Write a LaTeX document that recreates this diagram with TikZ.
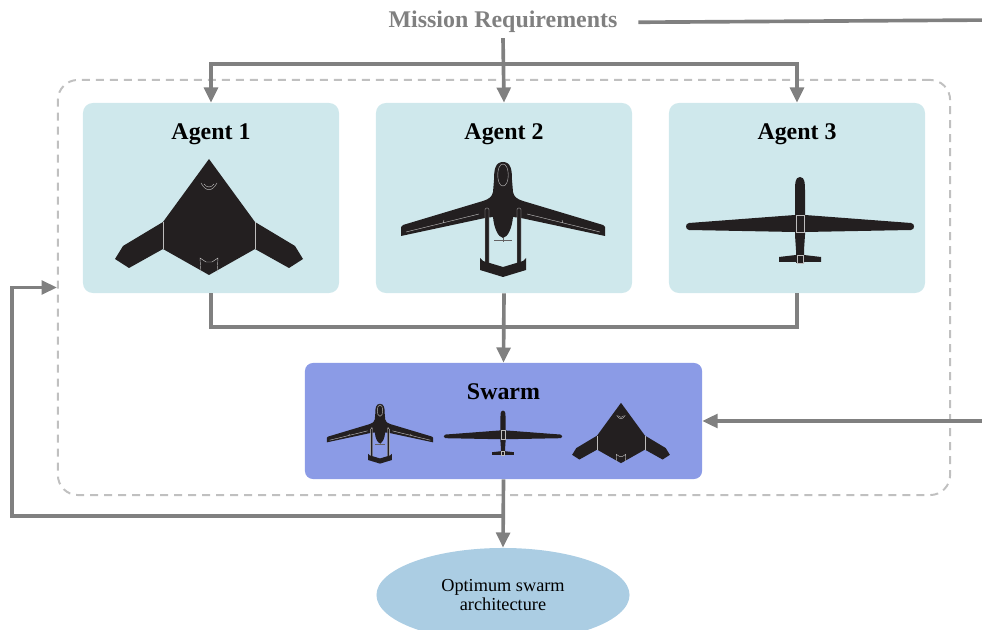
\documentclass[tikz,border=0pt]{standalone}
\usepackage{fontspec}
\setmainfont{Liberation Serif}
\usepackage{tikz}
\usetikzlibrary{arrows.meta,positioning,shapes.geometric}
\usepackage{xcolor}
\definecolor{agentfill}{RGB}{207,232,236}
\definecolor{swarmfill}{RGB}{139,155,230}
\definecolor{resultfill}{RGB}{171,205,227}
\definecolor{linegrey}{RGB}{128,128,128}
\definecolor{framegrey}{RGB}{192,192,192}
\definecolor{hullblack}{RGB}{35,31,32}

% aircraft silhouettes, drawn in pixel-sized units around their centre
\tikzset{
  hull/.style={fill=hullblack},
  seam/.style={draw=white!70!hullblack, line width=0.3pt},
  flywing/.pic={
    \fill[hull] (0,-58) -- (46,5) -- (86,29) -- (94,42) -- (80,51) -- (46,32)
      -- (0,58) -- (-46,32) -- (-80,51) -- (-94,42) -- (-86,29) -- (-46,5) -- cycle;
    \draw[seam] (-46,5) -- (-46,32) (46,5) -- (46,32);
    \draw[seam] (-8,56) -- (-9,41) -- (-3,45) -- (3,45) -- (9,41) -- (8,56);
    \draw[seam] (-8,-34) .. controls (-3,-25) and (3,-25) .. (8,-34);
    \draw[seam] (-5,-33) .. controls (-2,-29) and (2,-29) .. (5,-33);
  },
  twinboom/.pic={
    \fill[hull] (0,-58) .. controls (8,-58) and (9,-50) .. (9,-40) -- (10,-28)
      .. controls (11,-23) and (14,-21) .. (20,-19) -- (100,5) -- (102,7) -- (102,16)
      -- (18,-2) -- (10,-3) .. controls (9,8) and (5,17) .. (0,18)
      .. controls (-5,17) and (-9,8) .. (-10,-3) -- (-18,-2) -- (-102,16)
      -- (-102,7) -- (-100,5) -- (-20,-19) .. controls (-14,-21) and (-11,-23) .. (-10,-28)
      -- (-9,-40) .. controls (-9,-50) and (-8,-58) .. (0,-58) -- cycle;
    \draw[seam] (0,-56) .. controls (7,-56) and (7,-34) .. (0,-34)
      .. controls (-7,-34) and (-7,-56) .. (0,-56);
    \draw[seam] (-97,12) -- (-24,-6) (-60,3) -- (-59,0)
      (97,12) -- (24,-6) (60,3) -- (59,0);
    \filldraw[hull, seam, rounded corners=1pt]
      (-18,-12) rectangle (-14,46) (14,-12) rectangle (18,46);
    \fill[hull] (-23,38) -- (-20,41) -- (0,47) -- (20,41) -- (23,38) -- (23,50)
      -- (0,57) -- (-23,50) -- cycle;
    \draw[hullblack!70, line width=0.4pt] (-9,20) -- (9,20) (0,18) -- (0,22);
  },
  longwing/.pic={
    \fill[hull] (-5,-5) -- (5,-5) -- (111,3) .. controls (115,3.5) and (115,9.5) .. (111,10)
      -- (5,12) -- (-5,12) -- (-111,10) .. controls (-115,9.5) and (-115,3.5) .. (-111,3) -- cycle;
    \fill[hull] (0,-43) .. controls (5,-43) and (5,-36) .. (5,-30) -- (5,15) -- (4,30)
      -- (4,43) -- (-4,43) -- (-4,30) -- (-5,15) -- (-5,-30)
      .. controls (-5,-36) and (-5,-43) .. (0,-43) -- cycle;
    \fill[hull] (-4,35) -- (4,35) -- (21,37) -- (21,42) -- (-21,42) -- (-21,37) -- cycle;
    \draw[seam] (-4,-5) rectangle (4,12) (-3,35) rectangle (3,43);
  }
}

\begin{document}
\begin{tikzpicture}[
    x=0.025cm, y=-0.025cm,
    agent/.style={rectangle, fill=agentfill, rounded corners=0.25cm,
        minimum width=6.4cm, minimum height=4.75cm},
    boxtitle/.style={font=\fontsize{17}{20}\selectfont\bfseries, anchor=base},
    frame/.style={rectangle, draw=framegrey, line width=1.4pt, rounded corners=0.5cm,
        dash pattern=on 0.2cm off 0.15cm, minimum width=22.3cm, minimum height=10.375cm},
    line/.style={linegrey, line width=2.6pt},
    arr/.style={line, -{Triangle[length=3.8mm, width=3.4mm]}}
]
    \useasboundingbox (0,0) rectangle (982,630);

    \node[frame] (team) at (504,287.5) {};

    \node[boxtitle, text=linegrey] (mission) at (503,28) {Mission Requirements};

    \node[agent] (agent1) at (211,198) {};
    \node[agent] (agent2) at (504,198) {};
    \node[agent] (agent3) at (797,198) {};
    \node[boxtitle] (title1) at (211,140) {Agent 1};
    \node[boxtitle] (title2) at (504,140) {Agent 2};
    \node[boxtitle] (title3) at (797,140) {Agent 3};

    \node[rectangle, fill=swarmfill, rounded corners=0.2cm,
        minimum width=9.925cm, minimum height=2.9cm] (swarm) at (503.5,421) {};
    \node[boxtitle] (title4) at (503.5,400) {Swarm};

    \node[ellipse, fill=resultfill, minimum width=6.325cm, minimum height=2.35cm,
        align=center, font=\fontsize{13}{13}\selectfont] (result) at (503,595)
        {Optimum swarm\\architecture};

    % the three agents and the mixed swarm
    \pic at (209,217) {flywing};
    \pic at (503,220) {twinboom};
    \pic at (800,220) {longwing};
    \pic[scale=0.52] at (380,434) {twinboom};
    \pic[scale=0.52] at (503,433) {longwing};
    \pic[scale=0.52] at (621,433) {flywing};

    \coordinate (split) at (504,64);
    \coordinate (join) at (504,327);
    \coordinate (fork) at (504,516);
    \coordinate (back) at (12,516);
    \coordinate (edge) at (995,20);

    \draw[arr] (mission.south) -- (agent2.north);
    \draw[arr] (split) -| (agent1.north);
    \draw[arr] (split) -| (agent3.north);
    \draw[arr] ([xshift=0.4cm]mission.east) -- (edge) |- (swarm.east);

    \draw[line] (agent1.south) |- (join) -| (agent3.south);
    \draw[arr] (agent2.south) -- (swarm.north);

    \draw[arr] (swarm.south) -- (result.north);
    \draw[arr] (fork) -- (back) |- (team.west);
\end{tikzpicture}
\end{document}
